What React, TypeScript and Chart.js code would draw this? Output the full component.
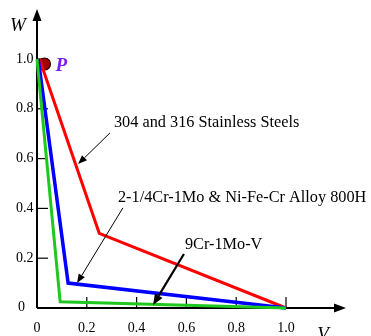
import React, { useEffect, useRef } from "react";
import { Chart, registerables } from "chart.js";

Chart.register(...registerables);

// Data (V, W)
const stainlessV = [0.01, 0.25, 1.0];
const stainlessW = [1.0, 0.3, 0.0];
const crMoV = [0.005, 0.125, 1.0];
const crMoW = [1.0, 0.1, 0.0];
const nineCrV = [0.0, 0.093, 1.0];
const nineCrW = [1.0, 0.025, 0.0];
const pointP = { x: 0.03, y: 0.98 };
const tickValues = [0.2, 0.4, 0.6, 0.8, 1.0];
const tickLabels = ["0.2", "0.4", "0.6", "0.8", "1.0"];
const seriesNames = [
  "304 and 316 Stainless Steels",
  "2-1/4Cr-1Mo & Ni-Fe-Cr Alloy 800H",
  "9Cr-1Mo-V",
];

const toPts = (xs: number[], ys: number[]) => xs.map((x, i) => ({ x, y: ys[i] }));

const SERIF = '"Liberation Serif", "DejaVu Serif", serif';

function arrow(ctx: CanvasRenderingContext2D, x1: number, y1: number, x2: number, y2: number, w: number, head: number) {
  const ang = Math.atan2(y2 - y1, x2 - x1);
  const bx = x2 - head * Math.cos(ang);
  const by = y2 - head * Math.sin(ang);
  ctx.beginPath();
  ctx.moveTo(x1, y1);
  ctx.lineTo(bx, by);
  ctx.lineWidth = w;
  ctx.strokeStyle = "#000";
  ctx.stroke();
  const hw = head * 0.4;
  ctx.beginPath();
  ctx.moveTo(x2, y2);
  ctx.lineTo(bx + hw * Math.sin(ang), by - hw * Math.cos(ang));
  ctx.lineTo(bx - hw * Math.sin(ang), by + hw * Math.cos(ang));
  ctx.closePath();
  ctx.fillStyle = "#000";
  ctx.fill();
}

const decorPlugin = {
  id: "decor",
  beforeDatasetsDraw(chart: any) {
    const ctx = chart.ctx as CanvasRenderingContext2D;
    const xs = chart.scales.x;
    const ys = chart.scales.y;
    const X = (v: number) => xs.getPixelForValue(v);
    const Y = (v: number) => ys.getPixelForValue(v);
    const x0 = X(0);
    const y0 = Y(0);
    ctx.save();
    ctx.strokeStyle = "#000";
    ctx.fillStyle = "#000";
    ctx.lineWidth = 2;
    // y axis
    ctx.beginPath();
    ctx.moveTo(x0, y0);
    ctx.lineTo(x0, 18);
    ctx.stroke();
    ctx.beginPath();
    ctx.moveTo(x0, 9);
    ctx.lineTo(x0 - 4.5, 21);
    ctx.lineTo(x0 + 4.5, 21);
    ctx.closePath();
    ctx.fill();
    // x axis
    ctx.beginPath();
    ctx.moveTo(x0, y0);
    ctx.lineTo(336, y0);
    ctx.stroke();
    ctx.beginPath();
    ctx.moveTo(346, y0);
    ctx.lineTo(334, y0 - 4.5);
    ctx.lineTo(334, y0 + 4.5);
    ctx.closePath();
    ctx.fill();
    // ticks
    ctx.lineWidth = 1.2;
    tickValues.forEach((v) => {
      ctx.beginPath();
      ctx.moveTo(x0, Y(v));
      ctx.lineTo(x0 + 11, Y(v));
      ctx.stroke();
      ctx.beginPath();
      ctx.moveTo(X(v), y0);
      ctx.lineTo(X(v), y0 - 11);
      ctx.stroke();
    });
    // tick labels
    ctx.font = `14px ${SERIF}`;
    ctx.textBaseline = "middle";
    ctx.textAlign = "left";
    tickValues.forEach((v, i) => ctx.fillText(tickLabels[i], 16, Y(v)));
    ctx.fillText("0", 18, y0 - 1);
    ctx.textAlign = "center";
    ctx.fillText("0", x0, 328);
    tickValues.forEach((v, i) => ctx.fillText(tickLabels[i], X(v), 328));
    // axis titles
    ctx.font = `italic 19px ${SERIF}`;
    ctx.fillText("W", 18, 26);
    ctx.fillText("V", 323, 335);
    ctx.restore();
  },
  afterDatasetsDraw(chart: any) {
    const ctx = chart.ctx as CanvasRenderingContext2D;
    const xs = chart.scales.x;
    const ys = chart.scales.y;
    const X = (v: number) => xs.getPixelForValue(v);
    const Y = (v: number) => ys.getPixelForValue(v);
    ctx.save();
    // P label
    ctx.font = `bold italic 19px ${SERIF}`;
    ctx.fillStyle = "#7a1cf5";
    ctx.textAlign = "left";
    ctx.textBaseline = "middle";
    ctx.fillText("P", X(pointP.x) + 11, Y(pointP.y) + 2);
    // annotations
    ctx.fillStyle = "#000";
    ctx.font = `16.3px ${SERIF}`;
    ctx.fillText(seriesNames[0], X(0.309), Y(0.743));
    ctx.fillText(seriesNames[1], X(0.325), Y(0.442));
    ctx.fillText(seriesNames[2], X(0.594), Y(0.253));
    arrow(ctx, X(0.293), Y(0.703), X(0.165), Y(0.578), 1, 9);
    arrow(ctx, X(0.345), Y(0.402), X(0.161), Y(0.1), 1, 9);
    arrow(ctx, X(0.59), Y(0.217), X(0.466), Y(0.012), 2.2, 11);
    ctx.restore();
  },
};

export default function App() {
  const ref = useRef<HTMLCanvasElement>(null);
  useEffect(() => {
    if (!ref.current) return;
    const chart = new Chart(ref.current, {
      type: "scatter",
      data: {
        datasets: [
          {
            label: seriesNames[2],
            data: toPts(nineCrV, nineCrW),
            showLine: true,
            borderColor: "#1ec81e",
            borderWidth: 3,
            pointRadius: 0,
          },
          {
            label: seriesNames[1],
            data: toPts(crMoV, crMoW),
            showLine: true,
            borderColor: "#0000ff",
            borderWidth: 3.5,
            pointRadius: 0,
          },
          {
            label: seriesNames[0],
            data: toPts(stainlessV, stainlessW),
            showLine: true,
            borderColor: "#ff0000",
            borderWidth: 3,
            pointRadius: 0,
          },
          {
            label: "P",
            data: [pointP],
            pointRadius: 6,
            pointBackgroundColor: "#a00000",
            pointBorderColor: "#300000",
            pointBorderWidth: 1.2,
          },
        ],
      },
      options: {
        animation: false,
        responsive: false,
        maintainAspectRatio: false,
        clip: false,
        layout: { padding: { left: 37, right: 85, top: 59, bottom: 28 } },
        plugins: { legend: { display: false }, tooltip: { enabled: false } },
        scales: {
          x: { type: "linear", min: 0, max: 1, display: false },
          y: { type: "linear", min: 0, max: 1, display: false },
        },
      },
      plugins: [decorPlugin],
    });
    return () => chart.destroy();
  }, []);
  return (
    <div style={{ position: "absolute", left: 0, top: 0, width: 371, height: 336, background: "#fff" }}>
      <canvas ref={ref} width={371} height={336} style={{ display: "block" }} />
    </div>
  );
}
